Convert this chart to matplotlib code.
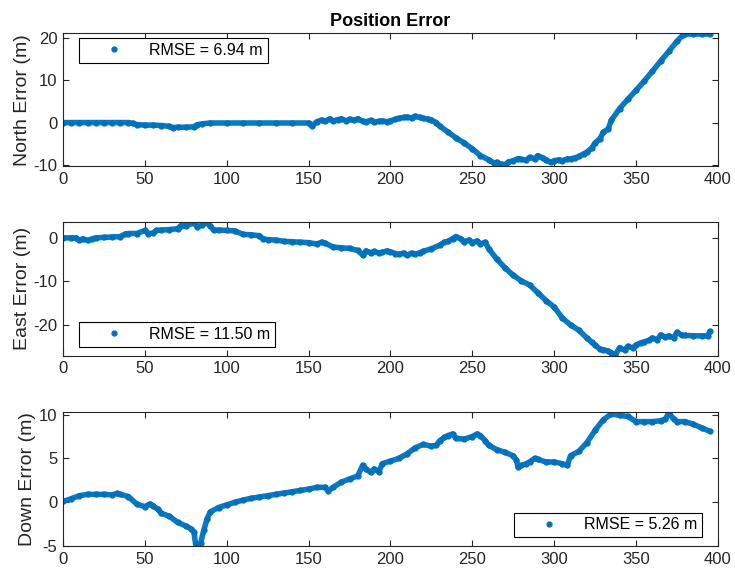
import matplotlib.pyplot as plt

plt.rcParams['font.family'] = ['Liberation Sans', 'DejaVu Sans']
plt.rcParams['axes.unicode_minus'] = False

# time (s) and error (m)
t_north = [0, 5, 10, 15, 20, 25, 30, 35, 40, 43, 45, 50, 55, 60, 65, 67, 70, 75, 80, 82, 85,
           90, 100, 110, 120, 130, 140, 150, 152, 155, 158, 160, 163, 165, 168, 170, 173,
           175, 178, 180, 183, 185, 188, 190, 193, 195, 198, 200, 203, 205, 208, 210, 213,
           215, 218, 220, 223, 225, 228, 230, 235, 240, 245, 250, 255, 260, 263, 265, 268,
           270, 272, 275, 278, 280, 283, 285, 288, 290, 293, 295, 298, 300, 303, 305, 308,
           310, 313, 315, 318, 320, 323, 325, 328, 330, 333, 335, 340, 345, 350, 355, 360,
           365, 370, 375, 379, 380, 385, 390, 395]
north = [0, 0, 0, 0, 0, 0, 0, 0, 0, -0.2, -0.5, -0.6, -0.6, -0.7, -0.9, -1.2, -1.1, -1.1,
         -1.0, -0.5, -0.3, -0.1, -0.1, -0.1, -0.1, -0.1, -0.1, -0.1, -0.8, 0.2, 0.6, 0.3,
         0.9, 0.4, 0.7, 0.9, 0.4, 0.8, 0.5, 0.9, 0.3, 0.2, 0.5, 0.1, 0.3, 0.4, 0.2, 0.4,
         0.8, 1.0, 1.2, 1.3, 1.1, 1.5, 1.2, 1.0, 0.8, 0.6, 0.0, -0.8, -2.2, -3.6, -4.8,
         -6.2, -7.8, -8.8, -9.5, -9.4, -9.9, -10.0, -9.3, -9.0, -8.5, -8.7, -8.9, -8.2,
         -8.6, -7.8, -8.4, -8.8, -9.4, -9.0, -8.8, -9.0, -8.6, -8.6, -8.3, -8.0, -7.4,
         -7.0, -6.0, -4.8, -3.8, -2.3, -1.5, 0.6, 3.3, 5.5, 7.6, 9.8, 12.1, 14.5, 16.8,
         19.2, 20.8, 20.9, 20.9, 20.9, 20.9]

t_east = [0, 5, 8, 10, 12, 15, 18, 20, 25, 30, 35, 38, 40, 45, 50, 52, 55, 57, 60, 65, 70,
          72, 75, 80, 82, 85, 87, 90, 92, 95, 100, 105, 110, 115, 120, 122, 125, 130, 135,
          140, 145, 150, 155, 158, 160, 165, 170, 175, 180, 183, 185, 188, 190, 193, 195,
          198, 200, 203, 205, 208, 210, 213, 215, 218, 220, 225, 230, 233, 235, 238, 240,
          243, 245, 248, 250, 253, 255, 258, 260, 265, 270, 275, 280, 285, 290, 295, 300,
          305, 310, 315, 320, 323, 325, 328, 330, 333, 335, 337, 340, 343, 345, 348, 350,
          353, 355, 358, 360, 363, 365, 368, 370, 373, 375, 378, 380, 385, 390, 394, 395]
east = [0, 0, 0, -0.6, -0.2, -0.6, -0.2, 0, 0.1, 0.2, 0.3, 0.9, 1.0, 1.0, 1.7, 1.0, 1.1,
        1.7, 1.8, 1.9, 2.1, 2.8, 2.8, 3.4, 2.6, 2.9, 3.6, 2.8, 1.8, 1.8, 1.7, 1.6, 0.8, 0.7,
        0.5, -0.2, -0.4, -0.5, -0.8, -0.9, -1.0, -1.1, -1.4, -1.0, -1.2, -2.1, -2.3, -2.4,
        -2.9, -3.9, -3.0, -3.4, -3.1, -3.5, -3.3, -3.0, -3.2, -3.6, -3.8, -3.5, -4.0, -3.5,
        -3.8, -3.4, -3.1, -2.5, -1.7, -1.0, -0.8, -0.2, 0.3, -0.2, -0.9, -0.5, -1.1, -0.7,
        -1.4, -1.0, -2.5, -4.9, -6.9, -8.6, -9.9, -10.8, -12.6, -14.4, -15.9, -18.4, -20.0,
        -21.2, -23.0, -24.0, -24.6, -25.6, -25.7, -26.0, -26.4, -27.0, -25.2, -25.8, -24.9,
        -25.3, -24.6, -24.1, -23.9, -23.5, -23.0, -23.4, -22.3, -22.8, -22.5, -23.0, -21.7,
        -22.4, -22.4, -22.5, -22.5, -22.5, -21.5]

t_down = [0, 5, 10, 15, 20, 25, 30, 33, 35, 40, 45, 50, 53, 55, 58, 60, 65, 70, 75, 78, 80,
          81, 82, 84, 86, 88, 90, 95, 100, 105, 110, 115, 120, 125, 130, 135, 140, 145, 150,
          155, 160, 162, 165, 170, 175, 180, 183, 185, 188, 190, 193, 195, 200, 205, 210,
          215, 220, 225, 228, 230, 233, 235, 238, 240, 245, 250, 253, 255, 258, 260, 265,
          270, 275, 277, 278, 280, 283, 285, 288, 290, 295, 300, 305, 308, 310, 315, 320,
          325, 330, 335, 340, 345, 350, 355, 360, 365, 368, 370, 373, 375, 380, 385, 390,
          395]
down = [0.1, 0.4, 0.75, 0.9, 0.9, 0.9, 0.85, 1.0, 0.9, 0.65, -0.2, -0.5, -0.2, -0.4, -0.8,
        -1.25, -1.6, -2.3, -2.7, -3.0, -3.4, -4.8, -4.9, -4.7, -3.2, -1.9, -1.1, -0.6, -0.3,
        0.0, 0.25, 0.45, 0.6, 0.75, 0.9, 1.05, 1.2, 1.35, 1.5, 1.7, 1.7, 1.3, 1.7, 2.3,
        2.65, 3.0, 4.2, 3.8, 3.4, 3.8, 3.5, 4.4, 4.7, 5.0, 5.5, 6.2, 6.6, 6.4, 6.5, 7.0,
        7.4, 7.6, 7.8, 7.3, 7.2, 7.5, 7.8, 7.6, 7.0, 6.5, 6.0, 5.7, 5.3, 4.8, 4.0, 4.2,
        4.4, 4.6, 5.0, 4.9, 4.6, 4.6, 4.4, 4.2, 5.3, 5.8, 6.8, 8.2, 9.4, 10.1, 9.9, 9.8,
        9.2, 9.2, 9.2, 9.3, 9.5, 10.2, 9.5, 9.2, 9.2, 8.9, 8.5, 8.1]

rmse = ['6.94', '11.50', '5.26']
ylabels = ['North Error (m)', 'East Error (m)', 'Down Error (m)']
ylims = [(-10.3, 21.1), (-27.1, 3.7), (-5.0, 10.3)]
yticks = [[-10, 0, 10, 20], [-20, -10, 0], [-5, 0, 5, 10]]

blue = '#0072BD'
dark = '#262626'

fig = plt.figure(figsize=(7.35, 5.73), dpi=100)
rects = [[0.0857, 0.710, 0.891, 0.232],
         [0.0857, 0.379, 0.891, 0.234],
         [0.0857, 0.047, 0.891, 0.234]]
legend_spots = [('upper left', (0.0244, 0.962)),
                ('lower left', (0.0244, 0.067)),
                ('lower right', (0.9756, 0.067))]

series = [(t_north, north), (t_east, east), (t_down, down)]
for i, (t, v) in enumerate(series):
    ax = fig.add_axes(rects[i])
    ax.plot(t, v, color=blue, lw=4, alpha=0.95, solid_capstyle='round',
            solid_joinstyle='round')
    ax.plot(t, v, '.', color=blue, ms=7, label='RMSE = {} m'.format(rmse[i]))
    ax.set_xlim(0, 400)
    ax.set_ylim(*ylims[i])
    ax.set_yticks(yticks[i])
    ax.set_xticks(range(0, 401, 50))
    ax.set_ylabel(ylabels[i], fontsize=14, color=dark, labelpad=2)
    ax.tick_params(direction='in', top=True, right=True, length=4.5,
                   labelsize=12, colors=dark, width=0.8, pad=4)
    for s in ax.spines.values():
        s.set_color(dark)
        s.set_linewidth(0.8)
    loc, anchor = legend_spots[i]
    leg = ax.legend(loc=loc, bbox_to_anchor=anchor, borderaxespad=0, fancybox=False,
                    edgecolor='black', framealpha=1, fontsize=11.5, numpoints=1,
                    handlelength=3.8, handletextpad=0.3, borderpad=0.3)
    leg.get_frame().set_linewidth(0.8)
    if i == 0:
        ax.set_title('Position Error', fontsize=13, fontweight='bold', pad=5)

plt.savefig('out.png', dpi=100)
